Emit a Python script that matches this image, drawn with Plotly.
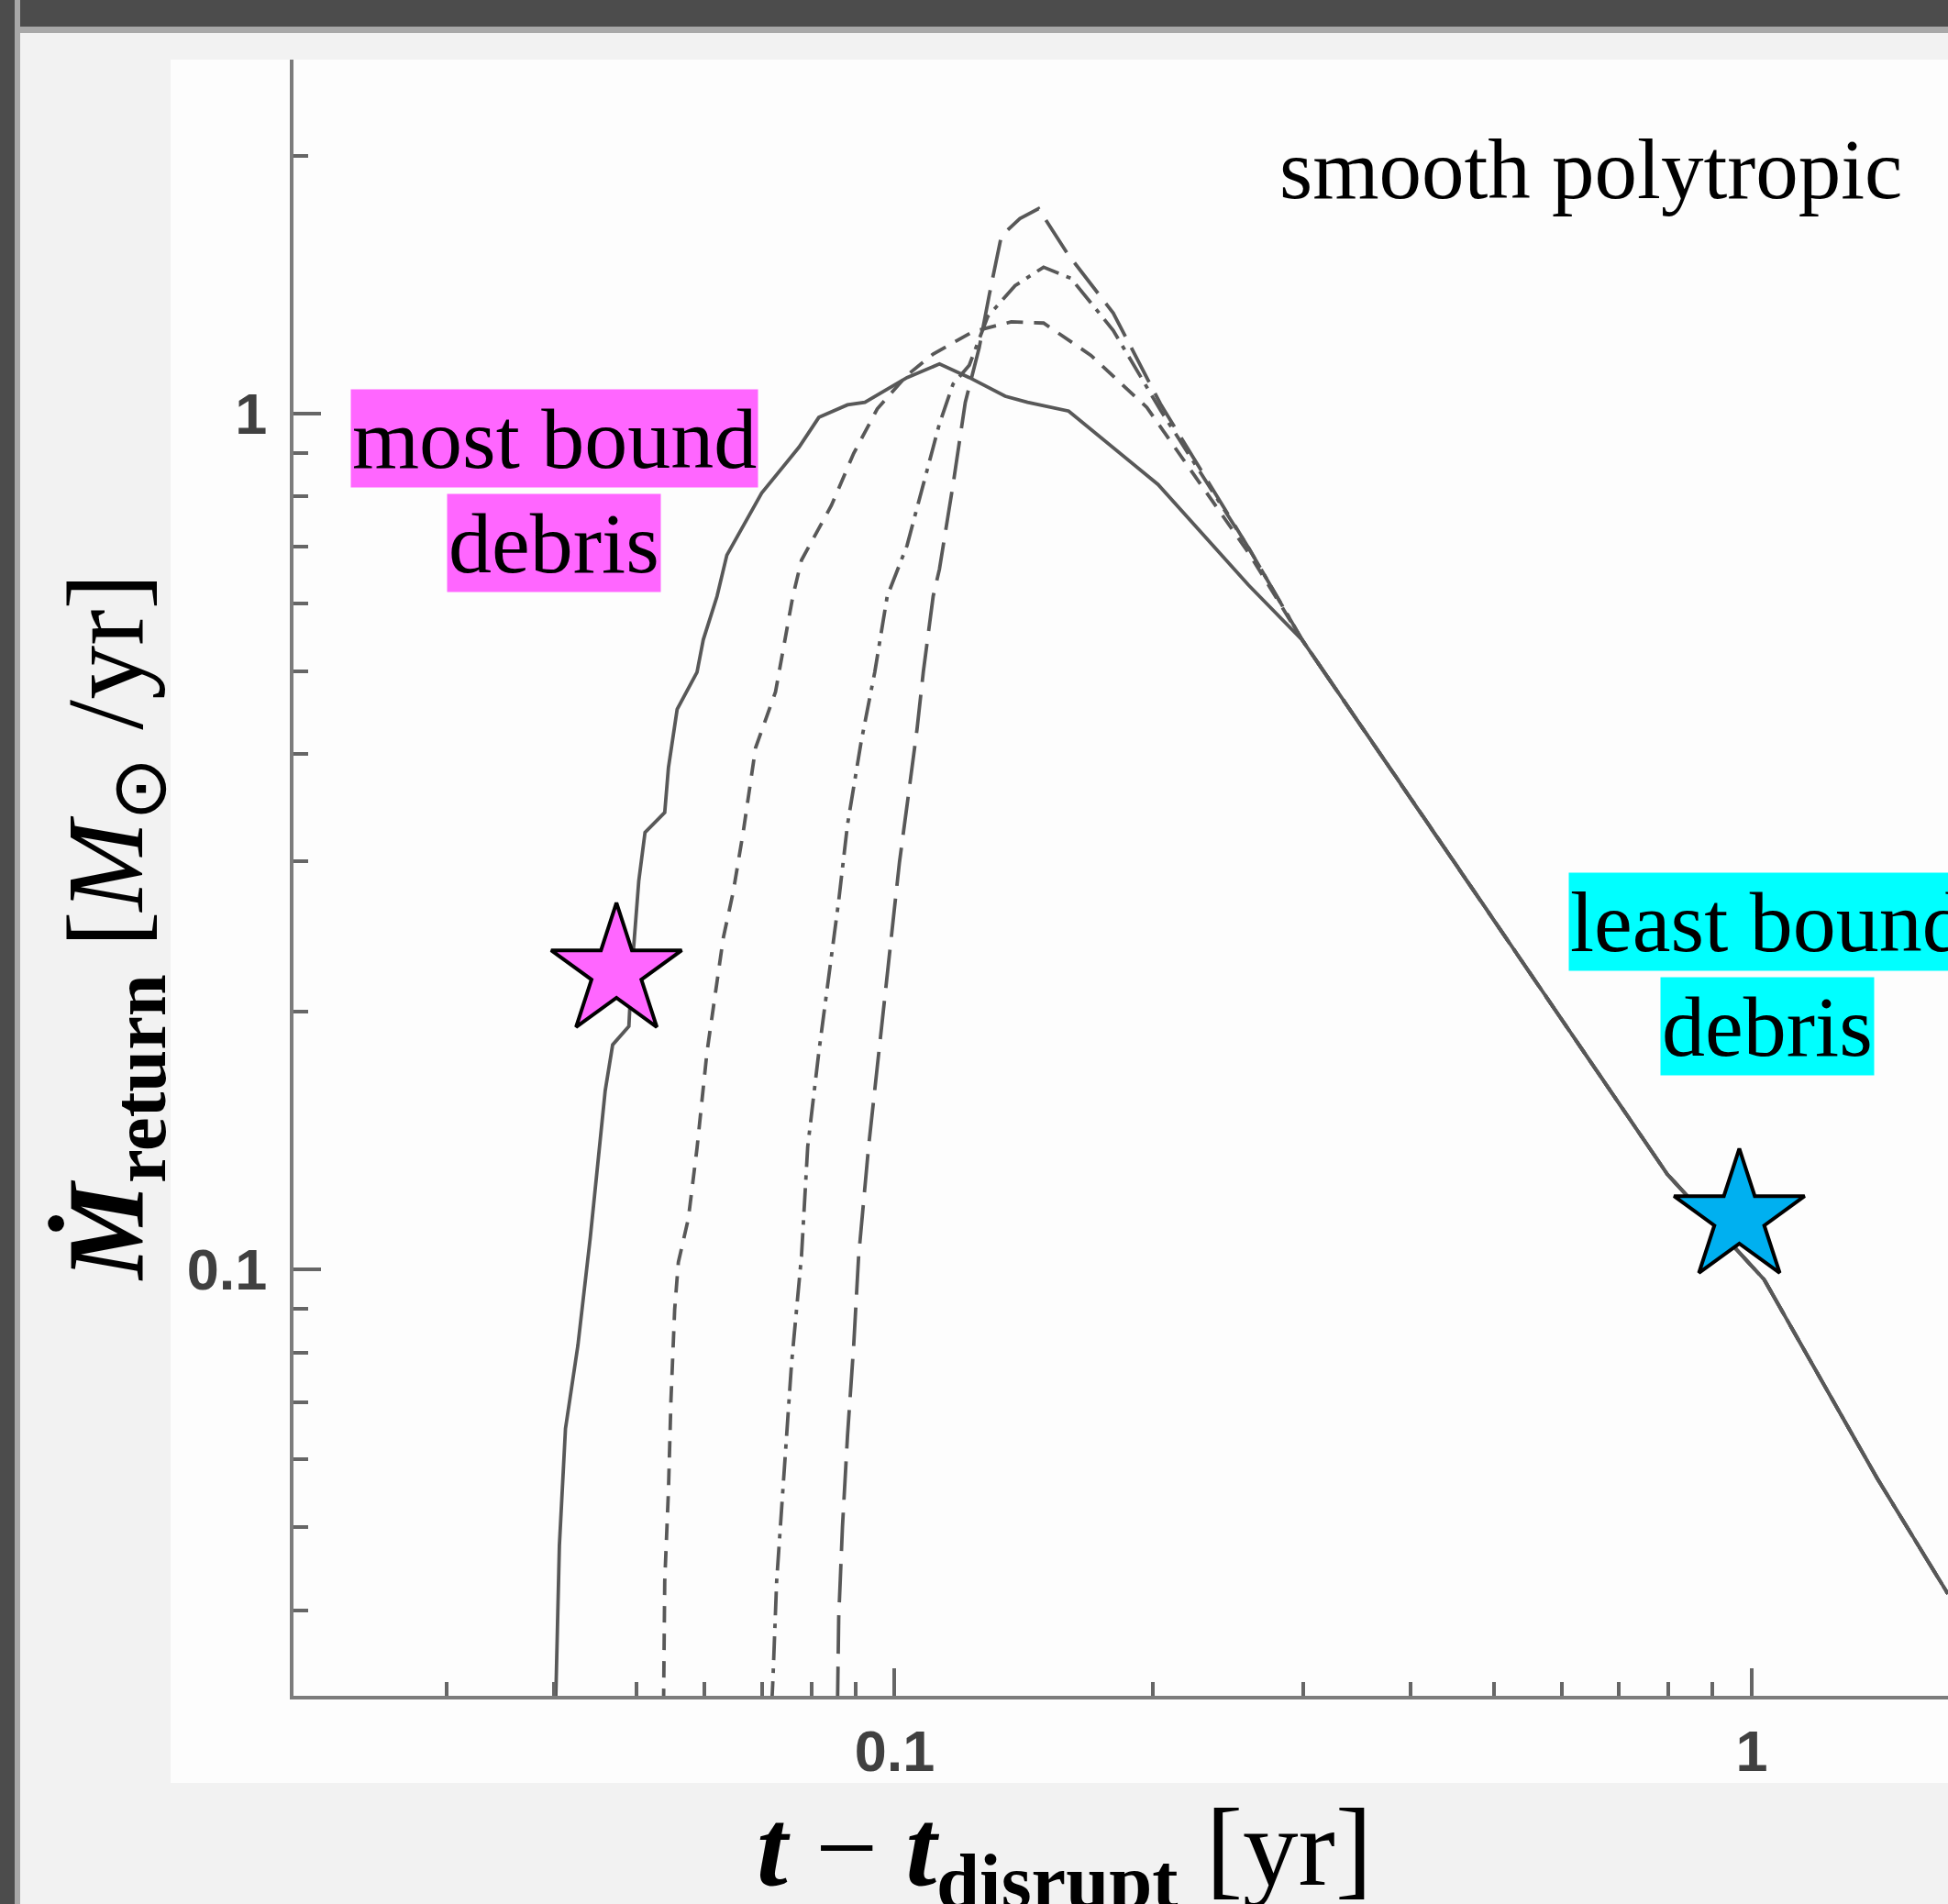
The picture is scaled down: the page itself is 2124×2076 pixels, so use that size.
import plotly.graph_objects as go

# ---------------- data ----------------
# x: t - t_disrupt [yr], y: Mdot_return [Msun/yr]
tail_t = [0.4200, 0.5785, 0.7970, 1.034, 1.401, 1.694]
tail_m = [0.3309, 0.2065, 0.1293, 0.09736, 0.05704, 0.04181]

solid_t = [0.04022, 0.04063, 0.04130, 0.04270, 0.04415, 0.04519, 0.04595, 0.04688,
           0.04897, 0.04930, 0.05029, 0.05114, 0.05392, 0.05446, 0.05575, 0.05881,
           0.05980, 0.06205, 0.06371, 0.06996, 0.07735, 0.08157, 0.08810, 0.09232,
           0.1034, 0.1128, 0.1222, 0.1346, 0.1429, 0.1596, 0.2029, 0.2588, 0.2988]
solid_m = [0.031, 0.04762, 0.06520, 0.08154, 0.1091, 0.1392, 0.1618, 0.1831,
           0.1925, 0.2201, 0.2846, 0.3242, 0.3420, 0.3859, 0.4515, 0.4990,
           0.5443, 0.6118, 0.6833, 0.8076, 0.9138, 0.990, 1.024, 1.031,
           1.102, 1.143, 1.102, 1.048, 1.031, 1.007, 0.8266, 0.6305, 0.5443]

dashed_t = [0.05375, 0.05392, 0.05446, 0.05483, 0.05538, 0.05593, 0.05745, 0.05881,
            0.06040, 0.06205, 0.06310, 0.06481, 0.06657, 0.06883, 0.07261, 0.07607,
            0.07786, 0.08436, 0.08958, 0.09544, 0.1034, 0.1109, 0.1234, 0.1368,
            0.1492, 0.1694, 0.1969, 0.2588, 0.2988]
dashed_m = [0.031, 0.04322, 0.05516, 0.07043, 0.08986, 0.1020, 0.1147, 0.1387,
            0.1795, 0.2179, 0.2440, 0.2762, 0.3242, 0.4071, 0.4731, 0.6118,
            0.6743, 0.7810, 0.8986, 1.013, 1.109, 1.174, 1.247, 1.280,
            1.276, 1.170, 1.017, 0.6879, 0.5443]

dashdot_t = [0.07187, 0.07211, 0.07283, 0.07430, 0.07580, 0.07786, 0.07917, 0.08157,
             0.08378, 0.08605, 0.08810, 0.09140, 0.09480, 0.09802, 0.1034, 0.1091,
             0.1128, 0.1170, 0.1222, 0.1284, 0.1382, 0.1492, 0.1606, 0.1799,
             0.2042, 0.2588, 0.2988]
dashdot_m = [0.031, 0.03319, 0.04322, 0.05800, 0.07758, 0.1037, 0.1392, 0.1795,
             0.2201, 0.2698, 0.3309, 0.4139, 0.4990, 0.6118, 0.7018, 0.8603,
             0.9736, 1.083, 1.139, 1.298, 1.411, 1.483, 1.439, 1.251,
             1.010, 0.6970, 0.5443]

longdash_t = [0.08577, 0.08605, 0.08692, 0.08810, 0.08958, 0.09078, 0.09324, 0.09480,
              0.09641, 0.09802, 0.09967, 0.1013, 0.1034, 0.1062, 0.1080, 0.1109,
              0.1128, 0.1170, 0.1209, 0.1255, 0.1289, 0.1332, 0.1400, 0.1472,
              0.1590, 0.1799, 0.2042, 0.2588, 0.2988]
longdash_m = [0.031, 0.03923, 0.05008, 0.06391, 0.08154, 0.1037, 0.1392, 0.1618,
              0.1887, 0.2201, 0.2566, 0.2992, 0.3490, 0.4279, 0.4990, 0.6118,
              0.6586, 0.8266, 1.031, 1.194, 1.374, 1.613, 1.690, 1.736,
              1.539, 1.311, 1.027, 0.6970, 0.5443]

most_bound_t = [0.04736]
most_bound_m = [0.2230]
least_bound_t = [0.9672]
least_bound_m = [0.1151]

x_major = [0.1, 1]
x_major_text = ["0.1", "1"]
x_minor = [0.03, 0.04, 0.05, 0.06, 0.07, 0.08, 0.09, 0.2, 0.3, 0.4, 0.5, 0.6, 0.7, 0.8, 0.9]
y_major = [0.1, 1]
y_major_text = ["0.1", "1"]
y_minor = [0.04, 0.05, 0.06, 0.07, 0.08, 0.09, 0.2, 0.3, 0.4, 0.5, 0.6, 0.7, 0.8, 0.9, 2]

# ---------------- layout geometry (pixels) ----------------
W, H = 2124, 2076
L, R, T, B = 320, 0, 65, 227
PW, PH = W - L - R, H - T - B


def px(xp):
    return (xp - L) / PW


def py(yp):
    return (H - B - yp) / PH


LINE = "#585858"
fig = go.Figure()

curves = [
    (solid_t, solid_m, "solid"),
    (dashed_t, dashed_m, "18px,12px"),
    (dashdot_t, dashdot_m, "26px,9px,5px,9px"),
    (longdash_t, longdash_m, "42px,14px"),
]
for ts, ms, dash in curves:
    fig.add_trace(go.Scatter(x=ts + tail_t, y=ms + tail_m, mode="lines",
                             line=dict(color=LINE, width=3.8, dash=dash),
                             showlegend=False, hoverinfo="skip"))

fig.add_trace(go.Scatter(x=most_bound_t, y=most_bound_m, mode="markers",
                         marker=dict(symbol="star", size=107, color="#ff66ff",
                                     line=dict(color="black", width=4)),
                         showlegend=False, cliponaxis=False, hoverinfo="skip"))
fig.add_trace(go.Scatter(x=least_bound_t, y=least_bound_m, mode="markers",
                         marker=dict(symbol="star", size=107, color="#00b0f0",
                                     line=dict(color="black", width=4)),
                         showlegend=False, cliponaxis=False, hoverinfo="skip"))

axis_common = dict(type="log", showgrid=False, zeroline=False, showline=True,
                   linecolor="#7c7c7c", linewidth=4, ticks="inside", ticklen=30,
                   tickwidth=4, tickcolor="#666666",
                   tickfont=dict(family="Liberation Sans", size=63, color="#404040",
                                 weight="bold"))

fig.update_xaxes(**axis_common, range=[-1.7014, 0.2290], tickmode="array",
                 tickvals=x_major, ticktext=x_major_text, ticklabelstandoff=2,
                 minor=dict(tickmode="array", tickvals=x_minor, ticks="inside",
                            ticklen=15, tickwidth=4, tickcolor="#666666"))
fig.update_yaxes(**axis_common, range=[-1.4978, 0.4136], tickmode="array",
                 tickvals=y_major, ticktext=y_major_text, ticklabelstandoff=12,
                 minor=dict(tickmode="array", tickvals=y_minor, ticks="inside",
                            ticklen=16, tickwidth=4, tickcolor="#666666"))

shapes = [
    # white panel
    dict(type="rect", xref="paper", yref="paper", x0=px(186), x1=px(W + 20),
         y0=py(1944), y1=py(65), fillcolor="#fdfdfd", line=dict(width=0), layer="below"),
    # dark top band
    dict(type="rect", xref="paper", yref="paper", x0=px(-20), x1=px(W + 20),
         y0=py(36), y1=py(-20), fillcolor="#a8a8a8", line=dict(width=0), layer="below"),
    dict(type="rect", xref="paper", yref="paper", x0=px(-20), x1=px(W + 20),
         y0=py(29), y1=py(-20), fillcolor="#4c4c4c", line=dict(width=0), layer="below"),
    # dark left band
    dict(type="rect", xref="paper", yref="paper", x0=px(-20), x1=px(22),
         y0=py(H + 20), y1=py(-20), fillcolor="#a8a8a8", line=dict(width=0), layer="below"),
    dict(type="rect", xref="paper", yref="paper", x0=px(-20), x1=px(16),
         y0=py(H + 20), y1=py(-20), fillcolor="#4c4c4c", line=dict(width=0), layer="below"),
]

SERIF = "Liberation Serif"
annotations = [
    dict(text="smooth polytropic", x=px(1734), y=py(184), font=dict(family=SERIF, size=93, color="black")),
    dict(text="most bound", x=px(604), y=py(478), bgcolor="#ff66ff",
         font=dict(family=SERIF, size=94, color="black")),
    dict(text="debris", x=px(604), y=py(592), bgcolor="#ff66ff",
         font=dict(family=SERIF, size=94, color="black")),
    dict(text="least bound", x=px(1927), y=py(1005), bgcolor="#00ffff",
         font=dict(family=SERIF, size=94, color="black")),
    dict(text="debris", x=px(1927), y=py(1119), bgcolor="#00ffff",
         font=dict(family=SERIF, size=94, color="black")),
    dict(text="<b><i>Ṁ</i></b><sub><b>return</b></sub> [<i>M</i><sub>⊙</sub> /yr]",
         x=px(124), y=py(1011), textangle=-90,
         font=dict(family=SERIF, size=118, color="black")),
    dict(text="<b><i>t</i></b> − <b><i>t</i></b><sub><b>disrupt</b></sub> [yr]",
         x=px(1160), y=py(2022),
         font=dict(family=SERIF, size=121, color="black")),
]
for a in annotations:
    a.update(xref="paper", yref="paper", showarrow=False, xanchor="center",
             yanchor="middle", borderpad=1)

fig.update_layout(width=W, height=H, margin=dict(l=L, r=R, t=T, b=B, pad=0),
                  paper_bgcolor="#f2f2f2", plot_bgcolor="rgba(0,0,0,0)",
                  shapes=shapes, annotations=annotations, showlegend=False)

fig.write_html("out.html", config={"displayModeBar": False},
               post_script="document.body.style.margin='0';"
                           "document.documentElement.style.overflow='hidden';")
